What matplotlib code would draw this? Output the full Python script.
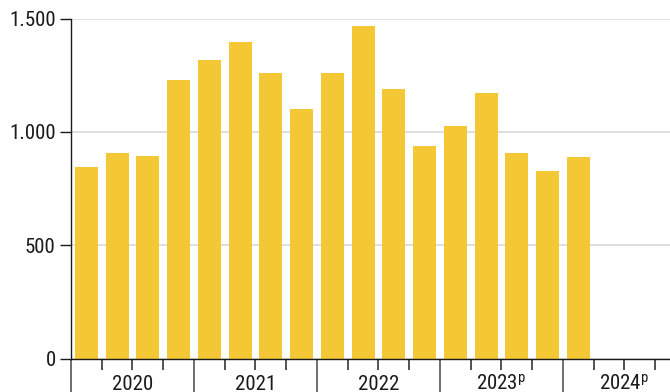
import matplotlib
matplotlib.use("Agg")
import matplotlib.pyplot as plt
from matplotlib.ticker import FixedLocator, FuncFormatter

# ---- data ----
quarters = ["2020Q1", "2020Q2", "2020Q3", "2020Q4",
            "2021Q1", "2021Q2", "2021Q3", "2021Q4",
            "2022Q1", "2022Q2", "2022Q3", "2022Q4",
            "2023Q1", "2023Q2", "2023Q3", "2023Q4",
            "2024Q1"]
values = [845, 906, 894, 1230,
          1317, 1397, 1260, 1102,
          1261, 1467, 1191, 936,
          1024, 1172, 908, 827,
          888]
years = ["2020", "2021", "2022", "2023", "2024"]
year_suffix = ["", "", "", "p", "p"]
yticks = [0, 500, 1000, 1500]

# ---- font ----
fam = "Roboto Condensed"
plt.rcParams["font.family"] = [fam, "DejaVu Sans"]
plt.rcParams["mathtext.fontset"] = "custom"
plt.rcParams["mathtext.rm"] = fam
plt.rcParams["mathtext.it"] = fam

bar_color = "#F4C834"
text_color = "#1a1a1a"
fs = 15

fig = plt.figure(figsize=(6.7, 3.92), dpi=100)
ax = fig.add_axes([71 / 670, 1 - 358.6 / 392, 1 - 71 / 670, 340 / 392])

x = list(range(len(values)))
ax.bar(x, values, width=0.75, color=bar_color, zorder=2)

ax.set_ylim(0, 1500)
ax.set_xlim(-0.5, 18.98)

ax.yaxis.set_major_locator(FixedLocator(yticks))
ax.yaxis.set_major_formatter(FuncFormatter(lambda v, p: f"{int(v):,}".replace(",", ".")))
ax.grid(axis="y", color="#d9d9d9", linewidth=1.2, zorder=0)
ax.set_axisbelow(True)

for s in ["top", "right"]:
    ax.spines[s].set_visible(False)
ax.spines["left"].set_color(text_color)
ax.spines["bottom"].set_color(text_color)
ax.spines["left"].set_linewidth(1.0)
ax.spines["bottom"].set_linewidth(1.0)

ax.tick_params(axis="y", length=8, width=1, color=text_color,
               labelsize=fs, labelcolor=text_color, pad=3)

n_years = len(years)
year_bounds = [-0.5 + 4 * k for k in range(n_years + 1)]
quarter_bounds = [-0.5 + q for q in range(4 * n_years + 1)]
ax.xaxis.set_major_locator(FixedLocator(year_bounds))
ax.xaxis.set_minor_locator(FixedLocator(quarter_bounds))
ax.xaxis.set_major_formatter(FuncFormatter(lambda v, p: ""))
ax.tick_params(axis="x", which="major", length=25, width=1.2, color="#555555")
ax.tick_params(axis="x", which="minor", length=8, width=1.2, color="#333333")

trans = ax.get_xaxis_transform()
for i, (yr, suf) in enumerate(zip(years, year_suffix)):
    cx = -0.5 + 4 * i + 2
    label = yr + (r"$^{\mathrm{" + suf + "}}$" if suf else "")
    ax.text(cx, -(389.5 - 358.6) / 340, label, transform=trans, ha="center",
            va="baseline", fontsize=fs, color=text_color, clip_on=False)

fig.savefig("out.png", dpi=100)
